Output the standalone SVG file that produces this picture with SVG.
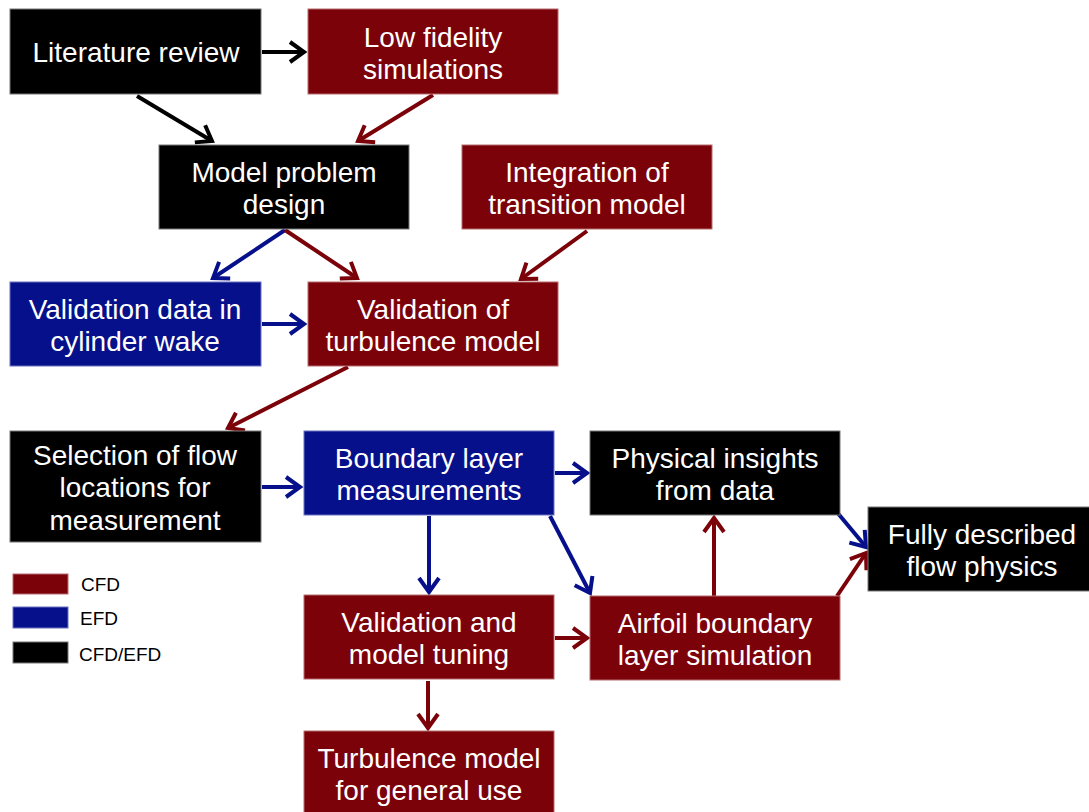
<svg xmlns="http://www.w3.org/2000/svg" width="1089" height="812" viewBox="0 0 1089 812">
<style>
.box{stroke-width:1}
.cfd{fill:#7B0209;stroke:#b86a6e}
.efd{fill:#06108A;stroke:#6a72c0}
.both{fill:#000;stroke:#777}
.t{font-family:"Liberation Sans",Arial,sans-serif;font-size:28px;fill:#fff;text-anchor:middle}
.lg{font-family:"Liberation Sans",Arial,sans-serif;font-size:19px;fill:#000}
.c{fill:none;stroke-width:4}
.ck{stroke:#000}
.cr{stroke:#7B0209}
.cb{stroke:#06108A}
</style>
<defs>
<marker id="ak" markerUnits="userSpaceOnUse" markerWidth="20" markerHeight="24" viewBox="0 0 20 24" refX="16" refY="12" orient="auto" overflow="visible"><path d="M2,2 L16,12 L2,22" fill="none" stroke="#000" stroke-width="4"/></marker>
<marker id="ar" markerUnits="userSpaceOnUse" markerWidth="20" markerHeight="24" viewBox="0 0 20 24" refX="16" refY="12" orient="auto" overflow="visible"><path d="M2,2 L16,12 L2,22" fill="none" stroke="#7B0209" stroke-width="4"/></marker>
<marker id="ab" markerUnits="userSpaceOnUse" markerWidth="20" markerHeight="24" viewBox="0 0 20 24" refX="16" refY="12" orient="auto" overflow="visible"><path d="M2,2 L16,12 L2,22" fill="none" stroke="#06108A" stroke-width="4"/></marker>
</defs>
<rect width="1089" height="812" fill="#fff"/>

<g id="connectors">
<line class="c ck" x1="262" y1="52" x2="304" y2="52" marker-end="url(#ak)"/>
<line class="c ck" x1="137" y1="96" x2="212" y2="141" marker-end="url(#ak)"/>
<line class="c cr" x1="433" y1="95" x2="358" y2="141" marker-end="url(#ar)"/>
<line class="c cb" x1="285" y1="230" x2="213" y2="278" marker-end="url(#ab)"/>
<line class="c cr" x1="285" y1="230" x2="357" y2="278" marker-end="url(#ar)"/>
<line class="c cr" x1="587" y1="231" x2="521" y2="279" marker-end="url(#ar)"/>
<line class="c cb" x1="262" y1="324" x2="304" y2="324" marker-end="url(#ab)"/>
<line class="c cr" x1="348" y1="367" x2="228" y2="428" marker-end="url(#ar)"/>
<line class="c cb" x1="262" y1="487" x2="300" y2="487" marker-end="url(#ab)"/>
<line class="c cb" x1="555" y1="473" x2="587" y2="473" marker-end="url(#ab)"/>
<line class="c cb" x1="429" y1="516" x2="429" y2="592" marker-end="url(#ab)"/>
<line class="c cb" x1="550" y1="516" x2="590" y2="593" marker-end="url(#ab)"/>
<line class="c cr" x1="555" y1="638" x2="587" y2="638" marker-end="url(#ar)"/>
<line class="c cr" x1="428" y1="681" x2="428" y2="728" marker-end="url(#ar)"/>
<line class="c cr" x1="714" y1="597" x2="714" y2="518" marker-end="url(#ar)"/>
<line class="c cb" x1="836" y1="511" x2="866" y2="547" marker-end="url(#ab)"/>
<line class="c cr" x1="837" y1="596" x2="866" y2="553" marker-end="url(#ar)"/>
</g>

<g id="n-literature"><rect class="box both" x="10" y="9" width="251" height="85"/><text class="t" x="136" y="62">Literature review</text></g>
<g id="n-lowfi"><rect class="box cfd" x="308" y="9" width="250" height="85"/><text class="t" x="433" y="47">Low fidelity</text><text class="t" x="433" y="79">simulations</text></g>
<g id="n-model"><rect class="box both" x="159" y="145" width="250" height="84"/><text class="t" x="284" y="182">Model problem</text><text class="t" x="284" y="214">design</text></g>
<g id="n-integration"><rect class="box cfd" x="462" y="145" width="250" height="84"/><text class="t" x="587" y="182">Integration of</text><text class="t" x="587" y="214">transition model</text></g>
<g id="n-valdata"><rect class="box efd" x="10" y="282" width="251" height="84"/><text class="t" x="135" y="319">Validation data in</text><text class="t" x="135" y="351">cylinder wake</text></g>
<g id="n-valturb"><rect class="box cfd" x="308" y="282" width="250" height="84"/><text class="t" x="433" y="319">Validation of</text><text class="t" x="433" y="351">turbulence model</text></g>
<g id="n-selection"><rect class="box both" x="10" y="431" width="251" height="111"/><text class="t" x="135" y="465">Selection of flow</text><text class="t" x="135" y="497">locations for</text><text class="t" x="135" y="530">measurement</text></g>
<g id="n-blmeas"><rect class="box efd" x="304" y="431" width="250" height="84"/><text class="t" x="429" y="468">Boundary layer</text><text class="t" x="429" y="500">measurements</text></g>
<g id="n-physical"><rect class="box both" x="590" y="431" width="250" height="84"/><text class="t" x="715" y="468">Physical insights</text><text class="t" x="715" y="500">from data</text></g>
<g id="n-fully"><rect class="box both" x="868" y="507" width="230" height="84"/><text class="t" x="982" y="544">Fully described</text><text class="t" x="982" y="576">flow physics</text></g>
<g id="n-valtuning"><rect class="box cfd" x="304" y="595" width="250" height="84"/><text class="t" x="429" y="632">Validation and</text><text class="t" x="429" y="664">model tuning</text></g>
<g id="n-airfoil"><rect class="box cfd" x="590" y="596" width="250" height="84"/><text class="t" x="715" y="633">Airfoil boundary</text><text class="t" x="715" y="665">layer simulation</text></g>
<g id="n-turbmodel"><rect class="box cfd" x="304" y="731" width="250" height="90"/><text class="t" x="429" y="768">Turbulence model</text><text class="t" x="429" y="800">for general use</text></g>

<g id="legend">
<rect class="box cfd" x="13" y="574" width="55" height="20"/>
<rect class="box efd" x="13" y="607" width="55" height="21"/>
<rect class="box both" x="13" y="642" width="55" height="21"/>
<text class="lg" x="81" y="591">CFD</text>
<text class="lg" x="80" y="625">EFD</text>
<text class="lg" x="79" y="661">CFD/EFD</text>
</g>
</svg>
